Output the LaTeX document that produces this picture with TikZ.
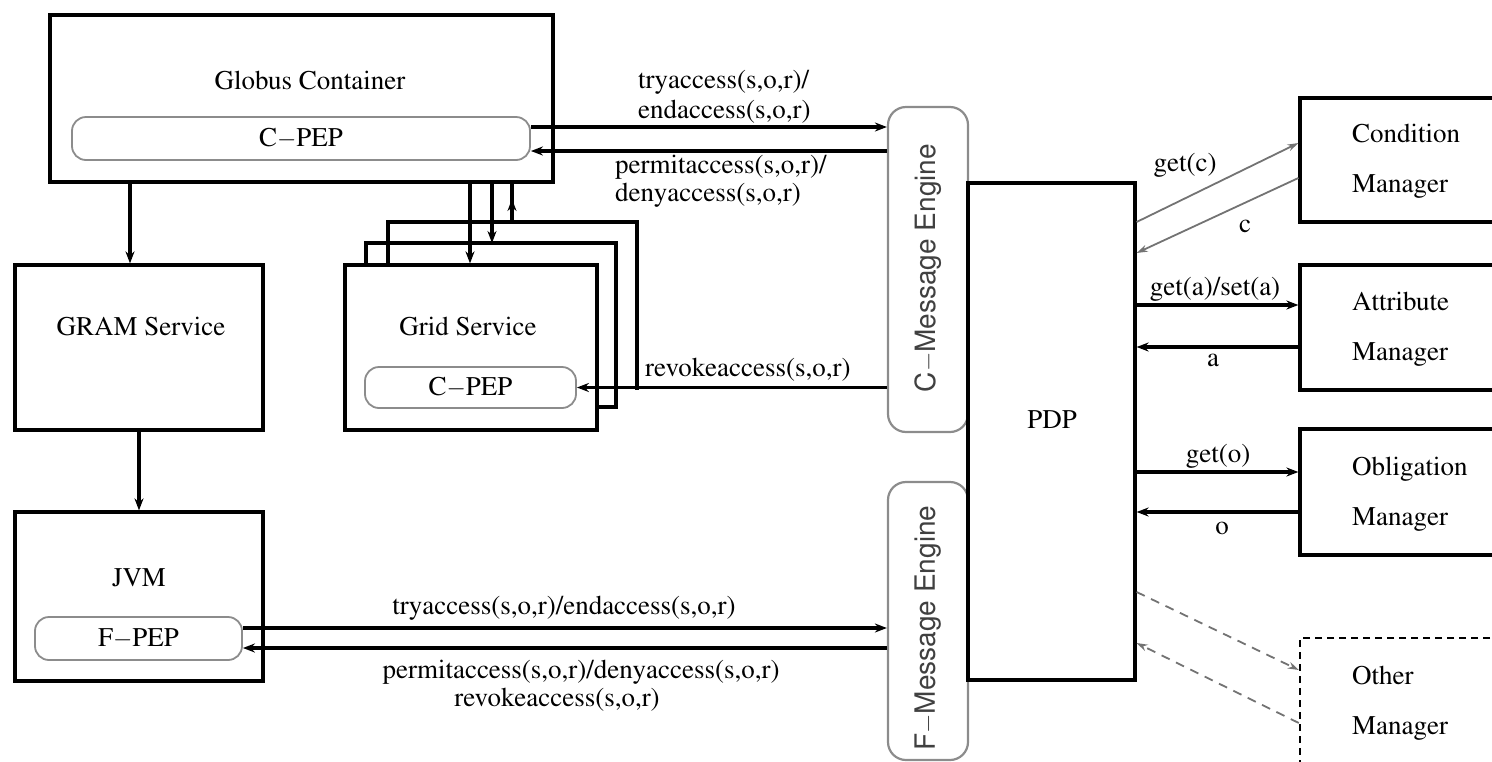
\documentclass[tikz,border=0pt]{standalone}
\usepackage[T1]{fontenc}
\usepackage{times}
\usetikzlibrary{arrows.meta}
\begin{document}
\begin{tikzpicture}[x=1pt,y=-1pt,
  every node/.style={font=\rmfamily\fontsize{27}{30}\selectfont, inner sep=0pt},
  box/.style={draw, line width=3.2pt},
  dbox/.style={draw, line width=2.4pt, dash pattern=on 7pt off 5pt},
  pep/.style={draw=black!45, line width=1.8pt, rounded corners=14pt},
  eng/.style={draw=black!45, line width=2.2pt, rounded corners=18pt},
  arr/.style={line width=3.2pt, -{Stealth[length=12pt,width=9pt]}},
  plainline/.style={line width=3.2pt},
  garr/.style={draw=black!55, line width=1.8pt, -{Stealth[length=11pt,width=7pt]}},
  dgarr/.style={garr, dash pattern=on 9pt off 7pt},
  mgr/.style={align=left, anchor=west, font=\rmfamily\fontsize{27}{50}\selectfont},
  engtext/.style={rotate=90, text=black!75, font=\sffamily\fontsize{28}{30}\selectfont}
]
\useasboundingbox (0,0) rectangle (1492,761);
\clip (0,0) rectangle (1492,761);

% ---------- boxes ----------
\node[box, minimum width=503pt, minimum height=167pt] (globus) at (301.5,98.5) {};
\node (tglobus) at (310,80) {Globus Container};
\node[pep, minimum width=458pt, minimum height=43pt] (gpep) at (301,138.5) {C$-$PEP};

\node[box, minimum width=248pt, minimum height=165pt] (gram) at (139,347.5) {};
\node (tgram) at (141,326) {GRAM Service};

\node[box, minimum width=248pt, minimum height=169pt] (jvm) at (139,596.5) {};
\node (tjvm) at (139,578) {JVM};
\node[pep, minimum width=207pt, minimum height=43pt] (fpep) at (138.5,638.5) {F$-$PEP};

% grid service stack
\draw[line width=3.2pt] (366,265) -- (366,243) -- (616,243) -- (616,407) -- (597,407);
\draw[line width=3.2pt] (388,265) -- (388,222) -- (637,222) -- (637,390);
\node[box, minimum width=252pt, minimum height=165pt] (grid) at (471,347.5) {};
\node (tgrid) at (468,326) {Grid Service};
\node[pep, minimum width=211pt, minimum height=41pt] (gridpep) at (470.5,387.5) {C$-$PEP};

% message engines
\node[eng, minimum width=80pt, minimum height=325pt] (ceng) at (928,269.5) {};
\node[engtext] (tceng) at (928,268) {C$-$Message Engine};
\node[eng, minimum width=80pt, minimum height=278pt] (feng) at (928,621) {};
\node[engtext] (tfeng) at (928,628) {F$-$Message Engine};

% PDP
\node[box, minimum width=167pt, minimum height=497pt] (pdp) at (1051.5,431.5) {};
\node (tpdp) at (1052,420) {PDP};

% managers
\node[box, minimum width=200pt, minimum height=124pt] (cond) at (1400,160) {};
\node[mgr] (tcond) at (1352,161) {Condition\\Manager};
\node[box, minimum width=200pt, minimum height=125pt] (attr) at (1400,327.5) {};
\node[mgr] (tattr) at (1352,329) {Attribute\\Manager};
\node[box, minimum width=200pt, minimum height=126pt] (obl) at (1400,492) {};
\node[mgr] (tobl) at (1352,494) {Obligation\\Manager};
\node[dbox, minimum width=200pt, minimum height=162pt] (other) at (1400,719) {};
\node[mgr] (tother) at (1352,703) {Other\\Manager};

% ---------- helper coordinates ----------
\coordinate (xa) at (130,0);
\coordinate (xg) at (470,0);
\coordinate (b2t) at (492,243);
\coordinate (b3t) at (512,222);
\coordinate (b3tip) at (512,199);
\coordinate (ytry) at (0,127);
\coordinate (yperm) at (0,151);
\coordinate (yftry) at (0,628);
\coordinate (yfperm) at (0,648);
\coordinate (ygc1) at (0,222);
\coordinate (ygc2) at (0,143);
\coordinate (yc1) at (0,178);
\coordinate (yc2) at (0,253);
\coordinate (yga) at (0,305);
\coordinate (ya) at (0,347);
\coordinate (ygo) at (0,472);
\coordinate (yo) at (0,512);
\coordinate (yx1) at (0,592);
\coordinate (yx2) at (0,670);
\coordinate (yx3) at (0,723);
\coordinate (yx4) at (0,643);

% ---------- connectors ----------
\draw[arr] (globus.south -| xa) -- (gram.north -| xa);
\draw[arr] (gram.south) -- (jvm.north);
\draw[arr] (globus.south -| xg) -- (grid.north -| xg);
\draw[arr] (globus.south -| b2t) -- (b2t);
\draw[plainline] (b3t) -- (globus.south -| b3t);
\draw[arr] (b3t) -- (b3tip);

\draw[arr] (gpep.east |- ytry) -- (ceng.west |- ytry);
\draw[arr] (ceng.west |- yperm) -- (gpep.east |- yperm);
\draw[arr] (ceng.west |- gridpep.east) -- (gridpep.east);
\draw[arr] (fpep.east |- yftry) -- (feng.west |- yftry);
\draw[arr] (feng.west |- yfperm) -- (fpep.east |- yfperm);

\draw[garr] (pdp.east |- ygc1) -- (cond.west |- ygc2);
\draw[garr] (cond.west |- yc1) -- (pdp.east |- yc2);
\draw[arr] (pdp.east |- yga) -- (attr.west |- yga);
\draw[arr] (attr.west |- ya) -- (pdp.east |- ya);
\draw[arr] (pdp.east |- ygo) -- (obl.west |- ygo);
\draw[arr] (obl.west |- yo) -- (pdp.east |- yo);
\draw[dgarr] (pdp.east |- yx1) -- (other.west |- yx2);
\draw[dgarr] (other.west |- yx3) -- (pdp.east |- yx4);

% ---------- labels ----------
\node[align=left, anchor=west] (ltry) at (638,97) {tryaccess(s,o,r)/\\endaccess(s,o,r)};
\node[align=left, anchor=west, font=\rmfamily\fontsize{27}{28}\selectfont] (lperm) at (615,181) {permitaccess(s,o,r)/\\denyaccess(s,o,r)};
\node[anchor=west] (lrev) at (645,370) {revokeaccess(s,o,r)};
\node (lftry) at (564,608) {tryaccess(s,o,r)/endaccess(s,o,r)};
\node (lfperm) at (581,672) {permitaccess(s,o,r)/denyaccess(s,o,r)};
\node (lfrev) at (557,700) {revokeaccess(s,o,r)};
\node (lgc) at (1185,165) {get(c)};
\node (lc) at (1245,226) {c};
\node (lga) at (1215,289) {get(a)/set(a)};
\node (la) at (1213,360) {a};
\node (lgo) at (1218,456) {get(o)};
\node (lo) at (1222,528) {o};
\end{tikzpicture}
\end{document}
